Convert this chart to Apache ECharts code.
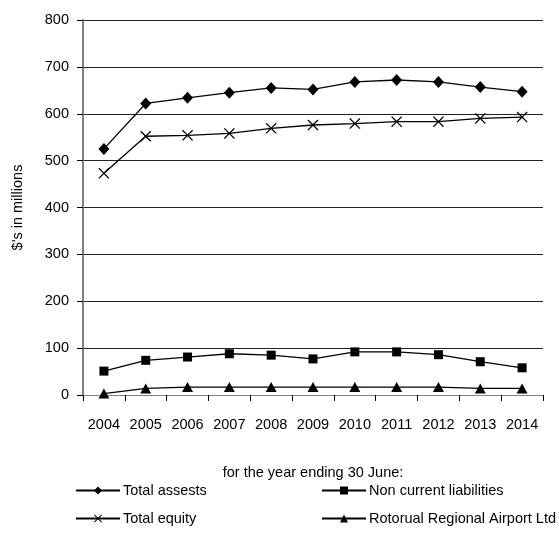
<!DOCTYPE html>
<html>
<head>
<meta charset="utf-8">
<script src="https://cdn.jsdelivr.net/npm/echarts@6/dist/echarts.min.js"></script>
<style>
  html, body { margin: 0; padding: 0; background: #fff; }
  #chart { width: 559px; height: 534px; }
</style>
</head>
<body>
<div id="chart"></div>
<script>
// Years shown along the category axis
const years = ['2004','2005','2006','2007','2008','2009','2010','2011','2012','2013','2014'];

// Balance sheet figures, $ millions
const totalAssets = [525, 622, 634, 645, 655, 652, 668, 672, 668, 657, 647];
const totalEquity = [473, 552, 554, 558, 569, 576, 579, 583, 583, 590, 593];
const nonCurrentLiabilities = [51, 74, 81, 88, 85, 77, 92, 92, 86, 71, 58];
const airport = [3, 14, 17, 17, 17, 17, 17, 17, 17, 14, 14];

// Value axis tick labels
const yTicks = [0, 100, 200, 300, 400, 500, 600, 700, 800];

const FONT = '"Liberation Sans", Arial, sans-serif';
const FS = 14.5;
const INK = '#000';

// X-shaped marker drawn as a filled outline
const crossSymbol = 'path://M0,0.8 L0.8,0 L5,4.2 L9.2,0 L10,0.8 L5.8,5 L10,9.2 L9.2,10 L5,5.8 L0.8,10 L0,9.2 L4.2,5 Z';

function lineSeries(name, data, symbol, size) {
  return {
    name: name,
    type: 'line',
    data: data,
    symbol: symbol,
    symbolSize: size,
    showAllSymbol: true,
    itemStyle: { color: INK },
    lineStyle: { color: INK, width: 1.3 },
    emphasis: { disabled: true },
    animation: false
  };
}

function legendAt(name, left, top) {
  return {
    data: [name],
    left: left,
    top: top,
    itemWidth: 44,
    itemHeight: 10,
    itemGap: 0,
    padding: 0,
    selectedMode: false,
    textStyle: { fontFamily: FONT, fontSize: FS, color: INK, padding: [0, 0, 0, -2] }
  };
}

const chart = echarts.init(document.getElementById('chart'), null, { renderer: 'canvas' });

chart.setOption({
  backgroundColor: '#fff',
  animation: false,
  grid: { left: 83, right: 16, top: 20, bottom: 139, containLabel: false },
  xAxis: {
    type: 'category',
    data: years,
    boundaryGap: true,
    name: 'for the year ending 30 June:',
    nameLocation: 'middle',
    nameGap: 70,
    nameTextStyle: { fontFamily: FONT, fontSize: FS, color: INK },
    axisLine: { show: true, lineStyle: { color: '#808080', width: 1 } },
    axisTick: { show: true, inside: false, length: 6, alignWithLabel: false, lineStyle: { color: INK } },
    axisLabel: { fontFamily: FONT, fontSize: FS, color: INK, margin: 22, interval: 0 },
    splitLine: { show: false }
  },
  yAxis: {
    type: 'value',
    min: yTicks[0],
    max: yTicks[yTicks.length - 1],
    interval: 100,
    name: "$'s in millions",
    nameLocation: 'middle',
    nameGap: 58,
    nameRotate: 90,
    nameTextStyle: { fontFamily: FONT, fontSize: FS, color: INK },
    axisLine: { show: true, lineStyle: { color: '#808080', width: 2 } },
    axisTick: { show: true, inside: false, length: 6, lineStyle: { color: INK } },
    axisLabel: { fontFamily: FONT, fontSize: FS, color: INK, margin: 14 },
    splitLine: { show: true, lineStyle: { color: '#222', width: 1 } }
  },
  legend: [
    legendAt('Total assests', 75, 483),
    legendAt('Non current liabilities', 321, 483),
    legendAt('Total equity', 75, 511),
    legendAt('Rotorual Regional Airport Ltd', 321, 511)
  ],
  series: [
    lineSeries('Total assests', totalAssets, 'diamond', [11, 12]),
    lineSeries('Total equity', totalEquity, crossSymbol, 11),
    lineSeries('Non current liabilities', nonCurrentLiabilities, 'rect', 9),
    lineSeries('Rotorual Regional Airport Ltd', airport, 'triangle', [11, 10])
  ]
});
</script>
</body>
</html>
